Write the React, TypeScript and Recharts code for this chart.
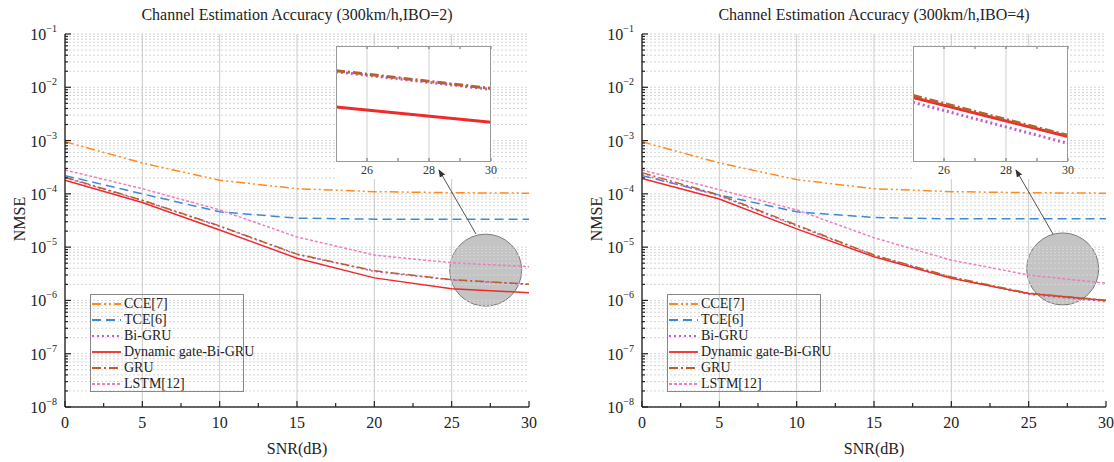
import React from 'react';
import { LineChart, Line, XAxis, YAxis, CartesianGrid, ReferenceLine, Legend } from 'recharts';

const SERIF = '"Liberation Serif", "Times New Roman", serif';

// SNR points (dB)
const snr = [0, 5, 10, 15, 20, 25, 30];

// IBO = 2
const cce2 = [9.5e-4, 3.8e-4, 1.8e-4, 1.25e-4, 1.1e-4, 1.05e-4, 1.03e-4];
const tce2 = [2.2e-4, 1.0e-4, 4.6e-5, 3.5e-5, 3.35e-5, 3.35e-5, 3.35e-5];
const bigru2 = [2.0e-4, 7.5e-5, 2.45e-5, 7.3e-6, 3.5e-6, 2.42e-6, 2.0e-6];
const dg2 = [1.8e-4, 6.9e-5, 2.1e-5, 6.2e-6, 2.65e-6, 1.65e-6, 1.4e-6];
const gru2 = [2.05e-4, 7.6e-5, 2.5e-5, 7.4e-6, 3.6e-6, 2.45e-6, 2.02e-6];
const lstm2 = [2.8e-4, 1.25e-4, 5.0e-5, 1.55e-5, 7.1e-6, 5.1e-6, 4.3e-6];

// IBO = 4
const cce4 = [9.5e-4, 3.8e-4, 1.85e-4, 1.25e-4, 1.1e-4, 1.05e-4, 1.03e-4];
const tce4 = [2.2e-4, 9.5e-5, 4.6e-5, 3.6e-5, 3.4e-5, 3.4e-5, 3.4e-5];
const bigru4 = [2.3e-4, 9.2e-5, 2.5e-5, 7.0e-6, 2.7e-6, 1.3e-6, 0.95e-6];
const dg4 = [1.95e-4, 8.0e-5, 2.2e-5, 6.6e-6, 2.6e-6, 1.35e-6, 1.0e-6];
const gru4 = [2.5e-4, 9.5e-5, 2.6e-5, 7.1e-6, 2.75e-6, 1.37e-6, 1.01e-6];
const lstm4 = [2.8e-4, 1.2e-4, 5.0e-5, 1.5e-5, 5.7e-6, 3.0e-6, 2.1e-6];

const xTicks = [0, 2.5, 5, 7.5, 10, 12.5, 15, 17.5, 20, 22.5, 25, 27.5, 30];
const xGrid = [5, 10, 15, 20, 25];
const insetTicks = [25, 26, 27, 28, 29, 30];
const decades = [1e-8, 1e-7, 1e-6, 1e-5, 1e-4, 1e-3, 1e-2, 1e-1];

const yTicks: number[] = [];
decades.forEach((d, i) => {
  yTicks.push(d);
  if (i < decades.length - 1) {
    for (let m = 2; m <= 9; m++) yTicks.push(Number((m * d).toPrecision(3)));
  }
});

const series = [
  { key: 'cce', name: 'CCE[7]', color: '#FF8A1E', dash: '9 3 2 3 2 3' },
  { key: 'tce', name: 'TCE[6]', color: '#3D8AD4', dash: '9 5' },
  { key: 'bigru', name: 'Bi-GRU', color: '#BE5CD0', dash: '2 3' },
  { key: 'dg', name: 'Dynamic gate-Bi-GRU', color: '#EE2A2A', dash: '' },
  { key: 'gru', name: 'GRU', color: '#B8602A', dash: '9 3 2 3' },
  { key: 'lstm', name: 'LSTM[12]', color: '#F07CC0', dash: '3 2' },
];

const build = (c: number[], t: number[], b: number[], d: number[], g: number[], l: number[]) =>
  snr.map((s, i) => ({ snr: s, cce: c[i], tce: t[i], bigru: b[i], dg: d[i], gru: g[i], lstm: l[i] }));

const rowsIbo2 = build(cce2, tce2, bigru2, dg2, gru2, lstm2);
const rowsIbo4 = build(cce4, tce4, bigru4, dg4, gru4, lstm4);

const isDecade = (v: number) => Math.abs(Math.log10(v) - Math.round(Math.log10(v))) < 1e-6;

const BottomTick = ({ x, y, payload }: any) => {
  const major = payload.value % 5 === 0;
  return (
    <g>
      <line x1={x} y1={y} x2={x} y2={y - (major ? 6 : 4)} stroke="#222" strokeWidth={1.2} />
      {major && (
        <text x={x} y={y + 21} textAnchor="middle" fontSize={16} fill="#222" fontFamily={SERIF}>
          {payload.value}
        </text>
      )}
    </g>
  );
};

const TopTick = ({ x, y, payload }: any) => {
  const major = payload.value % 5 === 0;
  return <line x1={x} y1={y} x2={x} y2={y + (major ? 6 : 4)} stroke="#222" strokeWidth={1.2} />;
};

const LeftTick = ({ x, y, payload }: any) => {
  const major = isDecade(payload.value);
  const exp = Math.round(Math.log10(payload.value));
  return (
    <g>
      <line x1={x} y1={y} x2={x + (major ? 6 : 3)} y2={y} stroke="#222" strokeWidth={1.2} />
      {major && (
        <text x={x - 8} y={y + 6} textAnchor="end" fontSize={16} fill="#222" fontFamily={SERIF}>
          10
          <tspan dy={-8} fontSize={10}>{'\u2212' + -exp}</tspan>
        </text>
      )}
    </g>
  );
};

const RightTick = ({ x, y, payload }: any) => {
  const major = isDecade(payload.value);
  return <line x1={x} y1={y} x2={x - (major ? 6 : 3)} y2={y} stroke="#222" strokeWidth={1.2} />;
};

const InsetTick = ({ x, y, payload }: any) => (
  <g>
    <line x1={x} y1={y} x2={x} y2={y - 3} stroke="#666" />
    <line x1={x} y1={y - 115} x2={x} y2={y - 112} stroke="#666" />
    {payload.value % 2 === 0 && (
      <text x={x} y={y + 13} textAnchor="middle" fontSize={12} fill="#333" fontFamily={SERIF}>
        {payload.value}
      </text>
    )}
  </g>
);

const LegendBox = () => (
  <div
    style={{
      position: 'relative',
      border: '1px solid #888',
      width: 154,
      height: 98,
      boxSizing: 'border-box',
      fontFamily: SERIF,
      fontSize: 14,
      color: '#222',
      textAlign: 'left',
    }}
  >
    {series.map((s, i) => (
      <div key={s.key} style={{ position: 'absolute', left: 0, top: 1 + i * 16, width: 152, height: 16 }}>
        <svg width={30} height={16} style={{ position: 'absolute', left: 1, top: 0 }}>
          <line x1={0} y1={8} x2={29} y2={8} stroke={s.color} strokeWidth={1.8} strokeDasharray={s.dash} />
        </svg>
        <span style={{ position: 'absolute', left: 33, top: 0, lineHeight: '16px', whiteSpace: 'nowrap' }}>{s.name}</span>
      </div>
    ))}
  </div>
);

const Inset = ({ rows, domain, left }: { rows: any[]; domain: [number, number]; left: number }) => (
  <div style={{ position: 'absolute', left, top: 46, width: 165, height: 133 }}>
    <div style={{ position: 'absolute', left: 0, top: 0, width: 155, height: 133, background: '#fff' }} />
    <div style={{ position: 'absolute', left: 0, top: 0 }}>
      <LineChart width={165} height={133} data={rows.filter((r) => r.snr >= 25)} margin={{ top: 0, right: 10, left: 0, bottom: 0 }}>
        <XAxis
          dataKey="snr"
          type="number"
          domain={[25, 30]}
          ticks={insetTicks}
          interval={0}
          height={18}
          tickSize={0}
          tickMargin={0}
          tickLine={false}
          axisLine={false}
          tick={<InsetTick />}
          allowDataOverflow
        />
        <YAxis hide type="number" scale="log" domain={domain} allowDataOverflow />
        <ReferenceLine x={26} stroke="#cfcfcf" />
        <ReferenceLine x={28} stroke="#cfcfcf" />
        {series.map((s) => (
          <Line
            key={s.key}
            dataKey={s.key}
            type="linear"
            stroke={s.color}
            strokeWidth={3}
            strokeDasharray={s.dash}
            dot={false}
            isAnimationActive={false}
          />
        ))}
      </LineChart>
    </div>
    <div
      style={{
        position: 'absolute',
        left: 0,
        top: 0,
        width: 155,
        height: 116,
        border: '1px solid #999',
        boxSizing: 'border-box',
        pointerEvents: 'none',
      }}
    />
  </div>
);

const PLOT_TOP = 34;
const PLOT_HEIGHT = 373;

const Panel = ({
  rows,
  title,
  yAxisWidth,
  marginRight,
  insetDomain,
  circleY,
}: {
  rows: any[];
  title: string;
  yAxisWidth: number;
  marginRight: number;
  insetDomain: [number, number];
  circleY: number;
}) => {
  const plotLeft = yAxisWidth;
  const plotWidth = 557 - yAxisWidth - marginRight;
  // magnifier circle centre, mapped with the same log scale as the axes
  const cx = plotLeft + (27.2 / 30) * plotWidth;
  const cy = PLOT_TOP + ((-1 - Math.log10(circleY)) / 7) * PLOT_HEIGHT;
  return (
    <div style={{ position: 'relative', width: 557, height: 462 }}>
      <svg width={557} height={462} style={{ position: 'absolute', left: 0, top: 0 }}>
        <circle cx={cx} cy={cy} r={36} fill="#c4c4c4" stroke="#7a7a7a" strokeWidth={1} />
      </svg>
      <div
        style={{
          position: 'absolute',
          left: plotLeft,
          width: plotWidth,
          top: 6,
          textAlign: 'center',
          fontFamily: SERIF,
          fontSize: 16,
          color: '#222',
        }}
      >
        {title}
      </div>
      <div
        style={{
          position: 'absolute',
          left: plotLeft - 45 - 40,
          width: 80,
          top: 210,
          textAlign: 'center',
          fontFamily: SERIF,
          fontSize: 16,
          color: '#222',
          transform: 'rotate(-90deg)',
        }}
      >
        NMSE
      </div>
      <div
        style={{
          position: 'absolute',
          left: plotLeft,
          width: plotWidth,
          top: 440,
          textAlign: 'center',
          fontFamily: SERIF,
          fontSize: 16,
          color: '#222',
        }}
      >
        SNR(dB)
      </div>
      <div style={{ position: 'absolute', left: 0, top: 0 }}>
        <LineChart width={557} height={462} data={rows} margin={{ top: PLOT_TOP, right: marginRight, left: 0, bottom: 0 }}>
          <CartesianGrid vertical={false} stroke="#d6d6d6" strokeDasharray="2 2" />
          <XAxis
            dataKey="snr"
            type="number"
            domain={[0, 30]}
            ticks={xTicks}
            interval={0}
            height={55}
            tickSize={0}
            tickMargin={0}
            tickLine={false}
            axisLine={{ stroke: '#333', strokeWidth: 1.5 }}
            tick={<BottomTick />}
          />
          <XAxis
            xAxisId="top"
            orientation="top"
            type="number"
            domain={[0, 30]}
            ticks={xTicks}
            interval={0}
            height={0}
            tickSize={0}
            tickMargin={0}
            tickLine={false}
            axisLine={{ stroke: '#333', strokeWidth: 1.5 }}
            tick={<TopTick />}
          />
          <YAxis
            type="number"
            scale="log"
            domain={[1e-8, 1e-1]}
            ticks={yTicks}
            interval={0}
            width={yAxisWidth}
            tickSize={0}
            tickMargin={0}
            tickLine={false}
            axisLine={{ stroke: '#333', strokeWidth: 1.5 }}
            tick={<LeftTick />}
            allowDataOverflow
          />
          <YAxis
            yAxisId="right"
            orientation="right"
            type="number"
            scale="log"
            domain={[1e-8, 1e-1]}
            ticks={yTicks}
            interval={0}
            width={0}
            tickSize={0}
            tickMargin={0}
            tickLine={false}
            axisLine={{ stroke: '#333', strokeWidth: 1.5 }}
            tick={<RightTick />}
            allowDataOverflow
          />
          {xGrid.map((v) => (
            <ReferenceLine key={v} x={v} stroke="#cbcbcb" />
          ))}
          {series.map((s) => (
            <Line
              key={s.key}
              dataKey={s.key}
              name={s.name}
              type="linear"
              stroke={s.color}
              strokeWidth={1.5}
              strokeDasharray={s.dash}
              dot={false}
              isAnimationActive={false}
            />
          ))}
          <Legend
            layout="vertical"
            align="center"
            verticalAlign="middle"
            content={<LegendBox />}
            wrapperStyle={{ left: plotLeft + 25, top: 294, width: 154 }}
          />
        </LineChart>
      </div>
      <Inset rows={rows} domain={insetDomain} left={plotLeft + 271} />
      <svg width={557} height={462} style={{ position: 'absolute', left: 0, top: 0, pointerEvents: 'none' }}>
        <defs>
          <marker id={'arrow' + yAxisWidth} markerWidth="8" markerHeight="8" refX="7" refY="4" orient="auto">
            <path d="M0,1 L8,4 L0,7 Z" fill="#333" />
          </marker>
        </defs>
        <line
          x1={plotLeft + 411}
          y1={234}
          x2={plotLeft + 374}
          y2={170}
          stroke="#555"
          strokeWidth={1}
          markerEnd={`url(#arrow${yAxisWidth})`}
        />
      </svg>
    </div>
  );
};

export default function App() {
  return (
    <div style={{ position: 'absolute', left: 0, top: 0, width: 1114, height: 462, display: 'flex', background: '#fff' }}>
      <Panel
        rows={rowsIbo2}
        title="Channel Estimation Accuracy (300km/h,IBO=2)"
        yAxisWidth={65}
        marginRight={28}
        insetDomain={[0.92e-6, 3.2e-6]}
        circleY={3.7e-6}
      />
      <Panel
        rows={rowsIbo4}
        title="Channel Estimation Accuracy (300km/h,IBO=4)"
        yAxisWidth={85}
        marginRight={8}
        insetDomain={[0.83e-6, 2.0e-6]}
        circleY={3.9e-6}
      />
    </div>
  );
}
